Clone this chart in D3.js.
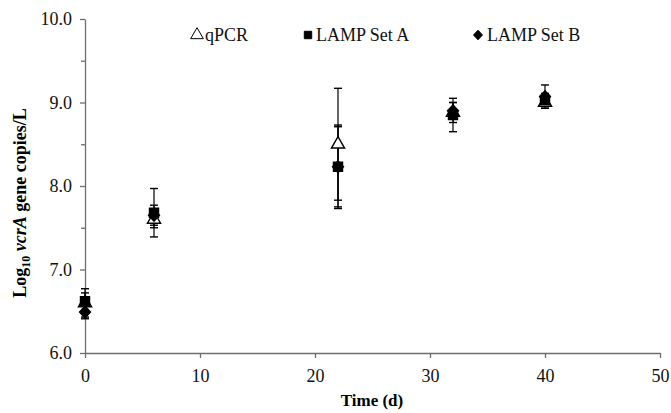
<!DOCTYPE html>
<html>
<head>
<meta charset="utf-8">
<script src="https://cdn.jsdelivr.net/npm/d3@7"></script>
<style>
  body { margin: 0; background: #fff; }
  text { font-family: "Liberation Serif", "Times New Roman", serif; }
</style>
</head>
<body>
<div id="chart-area"></div>
<script>
// data
var days = [0, 6, 22, 32, 40];
var qpcrMean = [6.60, 7.60, 8.50, 8.88, 9.00];
var qpcrErr  = [0.17, 0.10, 0.67, 0.12, 0.05];
var setAMean = [6.62, 7.68, 8.23, 8.85, 9.03];
var setAErr  = [0.10, 0.29, 0.50, 0.20, 0.08];
var setBMean = [6.49, 7.65, 8.23, 8.90, 9.07];
var setBErr  = [0.08, 0.12, 0.48, 0.10, 0.14];
var xTicks = [0, 10, 20, 30, 40, 50];
var yTicks = [6, 7, 8, 9, 10];
var yMinor = [6.5, 7.5, 8.5, 9.5];

var margin = { left: 85, right: 11, top: 19, bottom: 60 };
var width = 671 - margin.left - margin.right,
    height = 413 - margin.top - margin.bottom;

var svg = d3.select("#chart-area").append("svg")
    .attr("width", 671)
    .attr("height", 413);
var g = svg.append("g")
    .attr("transform", "translate(" + margin.left + "," + margin.top + ")");

var x = d3.scaleLinear().domain([0, 50]).range([0, width]);
var y = d3.scaleLinear().domain([6, 10]).range([height, 0]);

// wide diamond like the original marker
var wideDiamond = {
  draw: function(ctx, size) {
    var r = Math.sqrt(size / 2);
    ctx.moveTo(0, -r * 1.08);
    ctx.lineTo(r, 0);
    ctx.lineTo(0, r * 1.08);
    ctx.lineTo(-r, 0);
    ctx.closePath();
  }
};

// axes
g.append("g")
    .attr("transform", "translate(0," + height + ")")
    .call(d3.axisBottom(x).tickValues(xTicks).tickSize(5).tickSizeOuter(0).tickPadding(11));
g.append("g")
    .call(d3.axisLeft(y).tickValues(yTicks).tickSize(5).tickSizeOuter(0).tickPadding(8)
        .tickFormat(d3.format(".1f")));
g.append("g")
    .call(d3.axisLeft(y).tickValues(yMinor).tickSize(4).tickFormat(""))
    .select(".domain").remove();

g.selectAll(".domain, .tick line").attr("stroke", "#6e6e6e").attr("stroke-width", 1.3);
g.selectAll(".tick text").attr("font-size", "18px").attr("fill", "#111")
    .style("font-family", "Liberation Serif, serif");

// series
var series = [
  { name: "qPCR", mean: qpcrMean, err: qpcrErr, shape: d3.symbolTriangle, size: 75, fill: "#fff" },
  { name: "LAMP Set A", mean: setAMean, err: setAErr, shape: d3.symbolSquare, size: 82, fill: "#000" },
  { name: "LAMP Set B", mean: setBMean, err: setBErr, shape: wideDiamond, size: 60, fill: "#000" }
];

// error bars first
series.forEach(function(s) {
  var eb = g.append("g");
  days.forEach(function(d, i) {
    var cx = x(d), y1 = y(s.mean[i] + s.err[i]), y2 = y(s.mean[i] - s.err[i]);
    eb.append("line").attr("x1", cx).attr("x2", cx).attr("y1", y1).attr("y2", y2)
        .attr("stroke", "#000").attr("stroke-width", 1.2);
    [y1, y2].forEach(function(yy) {
      eb.append("line").attr("x1", cx - 4).attr("x2", cx + 4).attr("y1", yy).attr("y2", yy)
          .attr("stroke", "#000").attr("stroke-width", 1.4);
    });
  });
});

series.forEach(function(s) {
  g.append("g").selectAll("path")
    .data(days)
    .enter().append("path")
      .attr("transform", function(d, i) { return "translate(" + x(d) + "," + y(s.mean[i]) + ")"; })
      .attr("d", d3.symbol().type(s.shape).size(s.size))
      .attr("fill", s.fill)
      .attr("stroke", "#000")
      .attr("stroke-width", 1.4);
});

// legend
var legendX = [197, 308, 478];
series.forEach(function(s, i) {
  var lg = svg.append("g").attr("transform", "translate(" + legendX[i] + ",35)");
  lg.append("path")
    .attr("d", d3.symbol().type(s.shape).size(i === 0 ? 70 : (i === 1 ? 55 : 40)))
    .attr("fill", s.fill)
    .attr("stroke", "#000")
    .attr("stroke-width", 1);
  lg.append("text")
    .attr("x", i === 2 ? 9 : 8)
    .attr("y", 6)
    .attr("font-size", "18px")
    .attr("fill", "#111")
    .text(s.name);
});

// axis labels
svg.append("text")
    .attr("x", 372)
    .attr("y", 406)
    .attr("text-anchor", "middle")
    .attr("font-size", "17px")
    .attr("font-weight", "bold")
    .text("Time (d)");

var yl = svg.append("text")
    .attr("transform", "translate(26,203) rotate(-90)")
    .attr("text-anchor", "middle")
    .attr("font-size", "18px")
    .attr("font-weight", "bold");
yl.append("tspan").text("Log");
yl.append("tspan").attr("font-size", "12px").attr("dy", 4).text("10");
yl.append("tspan").attr("dy", -4).text(" ");
yl.append("tspan").attr("font-style", "italic").text("vcrA");
yl.append("tspan").text(" gene copies/L");
</script>
</body>
</html>
